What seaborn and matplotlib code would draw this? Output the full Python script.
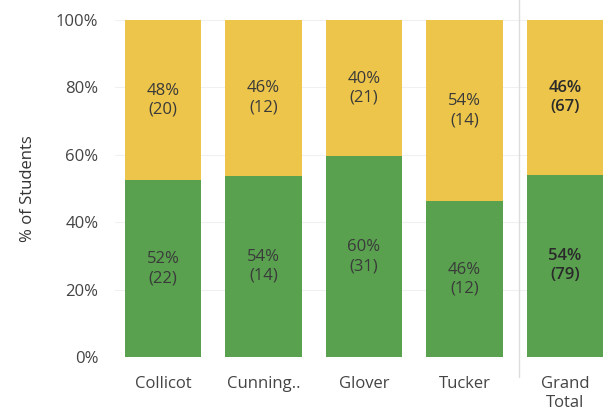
import matplotlib
matplotlib.use("Agg")
import matplotlib.pyplot as plt
import seaborn as sns
import pandas as pd

# data
schools = ["Collicot", "Cunning..", "Glover", "Tucker", "Grand\nTotal"]
green_counts = [22, 14, 31, 12, 79]
yellow_counts = [20, 12, 21, 14, 67]

GREEN = "#59a14f"
YELLOW = "#edc54a"

df = pd.DataFrame({"School": schools, "green": green_counts, "yellow": yellow_counts})
df["total"] = df["green"] + df["yellow"]
df["green_pct"] = df["green"] / df["total"]
df["all"] = 1.0

sns.set_style("white")
plt.rcParams["font.family"] = ["Open Sans", "DejaVu Sans"]

fig = plt.figure(figsize=(6.03, 4.17), dpi=100)
ax = fig.add_axes([115 / 603, 1 - 357 / 417, (603 - 115) / 603, 337 / 417])

sns.barplot(data=df, x="School", y="all", color=YELLOW, width=0.76,
            saturation=1, linewidth=0, ax=ax, zorder=2)
sns.barplot(data=df, x="School", y="green_pct", color=GREEN, width=0.76,
            saturation=1, linewidth=0, ax=ax, zorder=3)

# labels inside segments
FS = 12
for i, row in df.iterrows():
    g = row["green_pct"]
    last = i == len(df) - 1
    weight = "semibold" if last else "normal"
    col = "#2a2a2a" if last else "#3a3a3a"
    ax.text(i, g / 2, f"{round(g * 100):.0f}%\n({row['green']})", ha="center",
            va="center", fontsize=FS, color=col, linespacing=1.25,
            fontweight=weight, zorder=5)
    ax.text(i, g + (1 - g) / 2, f"{round((1 - g) * 100):.0f}%\n({row['yellow']})",
            ha="center", va="center", fontsize=FS, color=col, linespacing=1.25,
            fontweight=weight, zorder=5)

ax.set_ylim(0, 1)
ax.set_xlim(-0.48, 4.38)
ax.set_yticks([0, 0.2, 0.4, 0.6, 0.8, 1.0])
ax.set_yticklabels(["0%", "20%", "40%", "60%", "80%", "100%"])
ax.yaxis.grid(True, color="#f0f0f0", linewidth=0.8, zorder=0)
ax.tick_params(axis="both", length=0, labelsize=FS, labelcolor="#444444")
ax.tick_params(axis="y", pad=12)
ax.tick_params(axis="x", pad=14)
ax.set_xlabel("")
ax.set_ylabel("% of Students", fontsize=FS, color="#333333", labelpad=14)
for s in ax.spines.values():
    s.set_visible(False)

# separator before grand total
ax.axvline(3.54, color="#dddddd", linewidth=1, ymin=-0.06, ymax=1.06, clip_on=False, zorder=1)

fig.savefig("out.png", dpi=100)
